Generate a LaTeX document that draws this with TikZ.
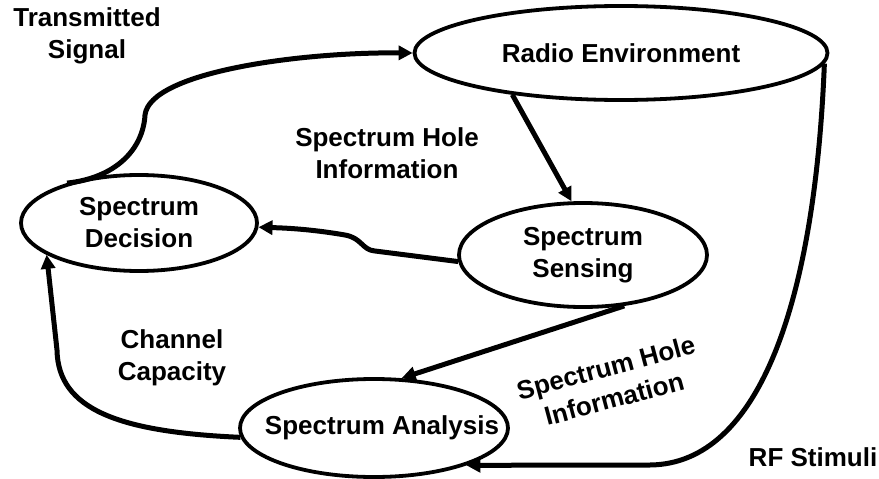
\documentclass[tikz,border=0pt]{standalone}
\usepackage{fontspec}
\setmainfont{Liberation Sans}
\usetikzlibrary{shapes.geometric,arrows.meta}
\tikzset{
  lbl/.style={font=\fontsize{26}{32}\selectfont\bfseries, align=center, inner sep=0pt},
  oval/.style={ellipse, draw, line width=3.8pt, inner sep=0pt, lbl},
  flow/.style={line width=5pt, -{Triangle[length=14pt,width=14pt]}},
}
\begin{document}
\begin{tikzpicture}[x=1pt,y=-1pt]
\useasboundingbox (0,0) rectangle (879,479);

% states of the cognitive cycle
\node[oval, minimum width=413pt, minimum height=94pt] (rad) at (621,53) {Radio Environment};
\node[oval, minimum width=236pt, minimum height=96pt] (dec) at (139,223) {Spectrum\\Decision};
\node[oval, minimum width=248pt, minimum height=104pt] (sen) at (583,255) {Spectrum\\Sensing};
\node[oval, inner xsep=-38pt, minimum width=268pt, minimum height=98pt] (ana) at (374,428) {\hspace*{16pt}Spectrum Analysis};

% edge labels
\node[lbl] (ts) at (87,36) {Transmitted\\Signal};
\node[lbl] (shi) at (387,153) {Spectrum Hole\\Information};
\node[lbl] (cc) at (172,358) {Channel\\Capacity};
\node[lbl, rotate=15] (shi2) at (610,383) {Spectrum Hole\\Information};
\node[lbl] (rf) at (813,457) {RF Stimuli};

% transitions
\draw[flow] (dec.151) .. controls (115,178) and (143,150) .. (145,115)
  .. controls (150,72) and (300,52) .. (rad.west);
\draw[flow] (rad.201) -- (sen.102);
\draw[flow] (sen.183) -- (375,251) .. controls (362,250) and (362,238) .. (345,235)
  .. controls (310,229) and (285,228) .. (dec.-2);
\draw[flow] (sen.-51) -- (ana.61);
\draw[flow] (ana.184) .. controls (120,432) and (58,410) .. (57,350) -- (dec.199);
\draw[flow] (rad.-3) .. controls (815,300) and (760,464) .. (650,465) -- (ana.-22);
\end{tikzpicture}
\end{document}
